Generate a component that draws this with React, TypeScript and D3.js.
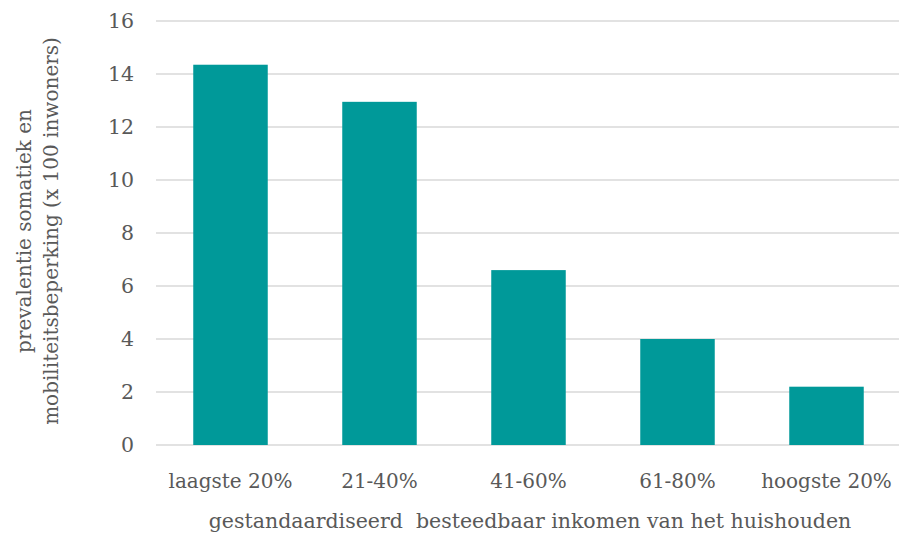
import React from "react";
import * as d3 from "d3";

const categories = ["laagste 20%", "21-40%", "41-60%", "61-80%", "hoogste 20%"];
const values = [14.35, 12.95, 6.6, 4.0, 2.2];
const yTicks = [0, 2, 4, 6, 8, 10, 12, 14, 16];
const yTitleLines = ["prevalentie somatiek en", "mobiliteitsbeperking (x 100 inwoners)"];
const xTitle = "gestandaardiseerd  besteedbaar inkomen van het huishouden";

const W = 899;
const H = 536;
const FONT = "'DejaVu Serif', serif";
const TXT = "#595959";

export default function App() {
  const x = d3.scaleBand<string>().domain(categories).range([156, 901]).paddingInner(0.5).paddingOuter(0.25);
  const y = d3.scaleLinear().domain([0, 16]).range([445, 21]);
  return (
    <svg width={W} height={H} style={{ position: "absolute", left: 0, top: 0, background: "#fff" }}>
      {yTicks.map((t) => (
        <g key={t}>
          <line x1={156} x2={899} y1={y(t)} y2={y(t)} stroke="#d9d9d9" strokeWidth={1.3} />
          <text x={134} y={y(t)} dy="0.36em" textAnchor="end" fontFamily={FONT} fontSize={20.5} fill={TXT}>
            {t}
          </text>
        </g>
      ))}
      {categories.map((c, i) => (
        <rect key={c} x={x(c)} y={y(values[i])} width={x.bandwidth()} height={y(0) - y(values[i])} fill="#009999" />
      ))}
      {categories.map((c) => (
        <text key={c} x={(x(c) as number) + x.bandwidth() / 2} y={488} textAnchor="middle" fontFamily={FONT} fontSize={20} fill={TXT}>
          {c}
        </text>
      ))}
      <text x={530} y={528} textAnchor="middle" fontFamily={FONT} fontSize={20.5} fill={TXT} style={{ whiteSpace: "pre" }}>
        {xTitle}
      </text>
      {yTitleLines.map((l, i) => (
        <text
          key={l}
          transform={`translate(${31 + i * 27},231) rotate(-90)`}
          textAnchor="middle"
          fontFamily={FONT}
          fontSize={20}
          fill={TXT}
        >
          {l}
        </text>
      ))}
    </svg>
  );
}
